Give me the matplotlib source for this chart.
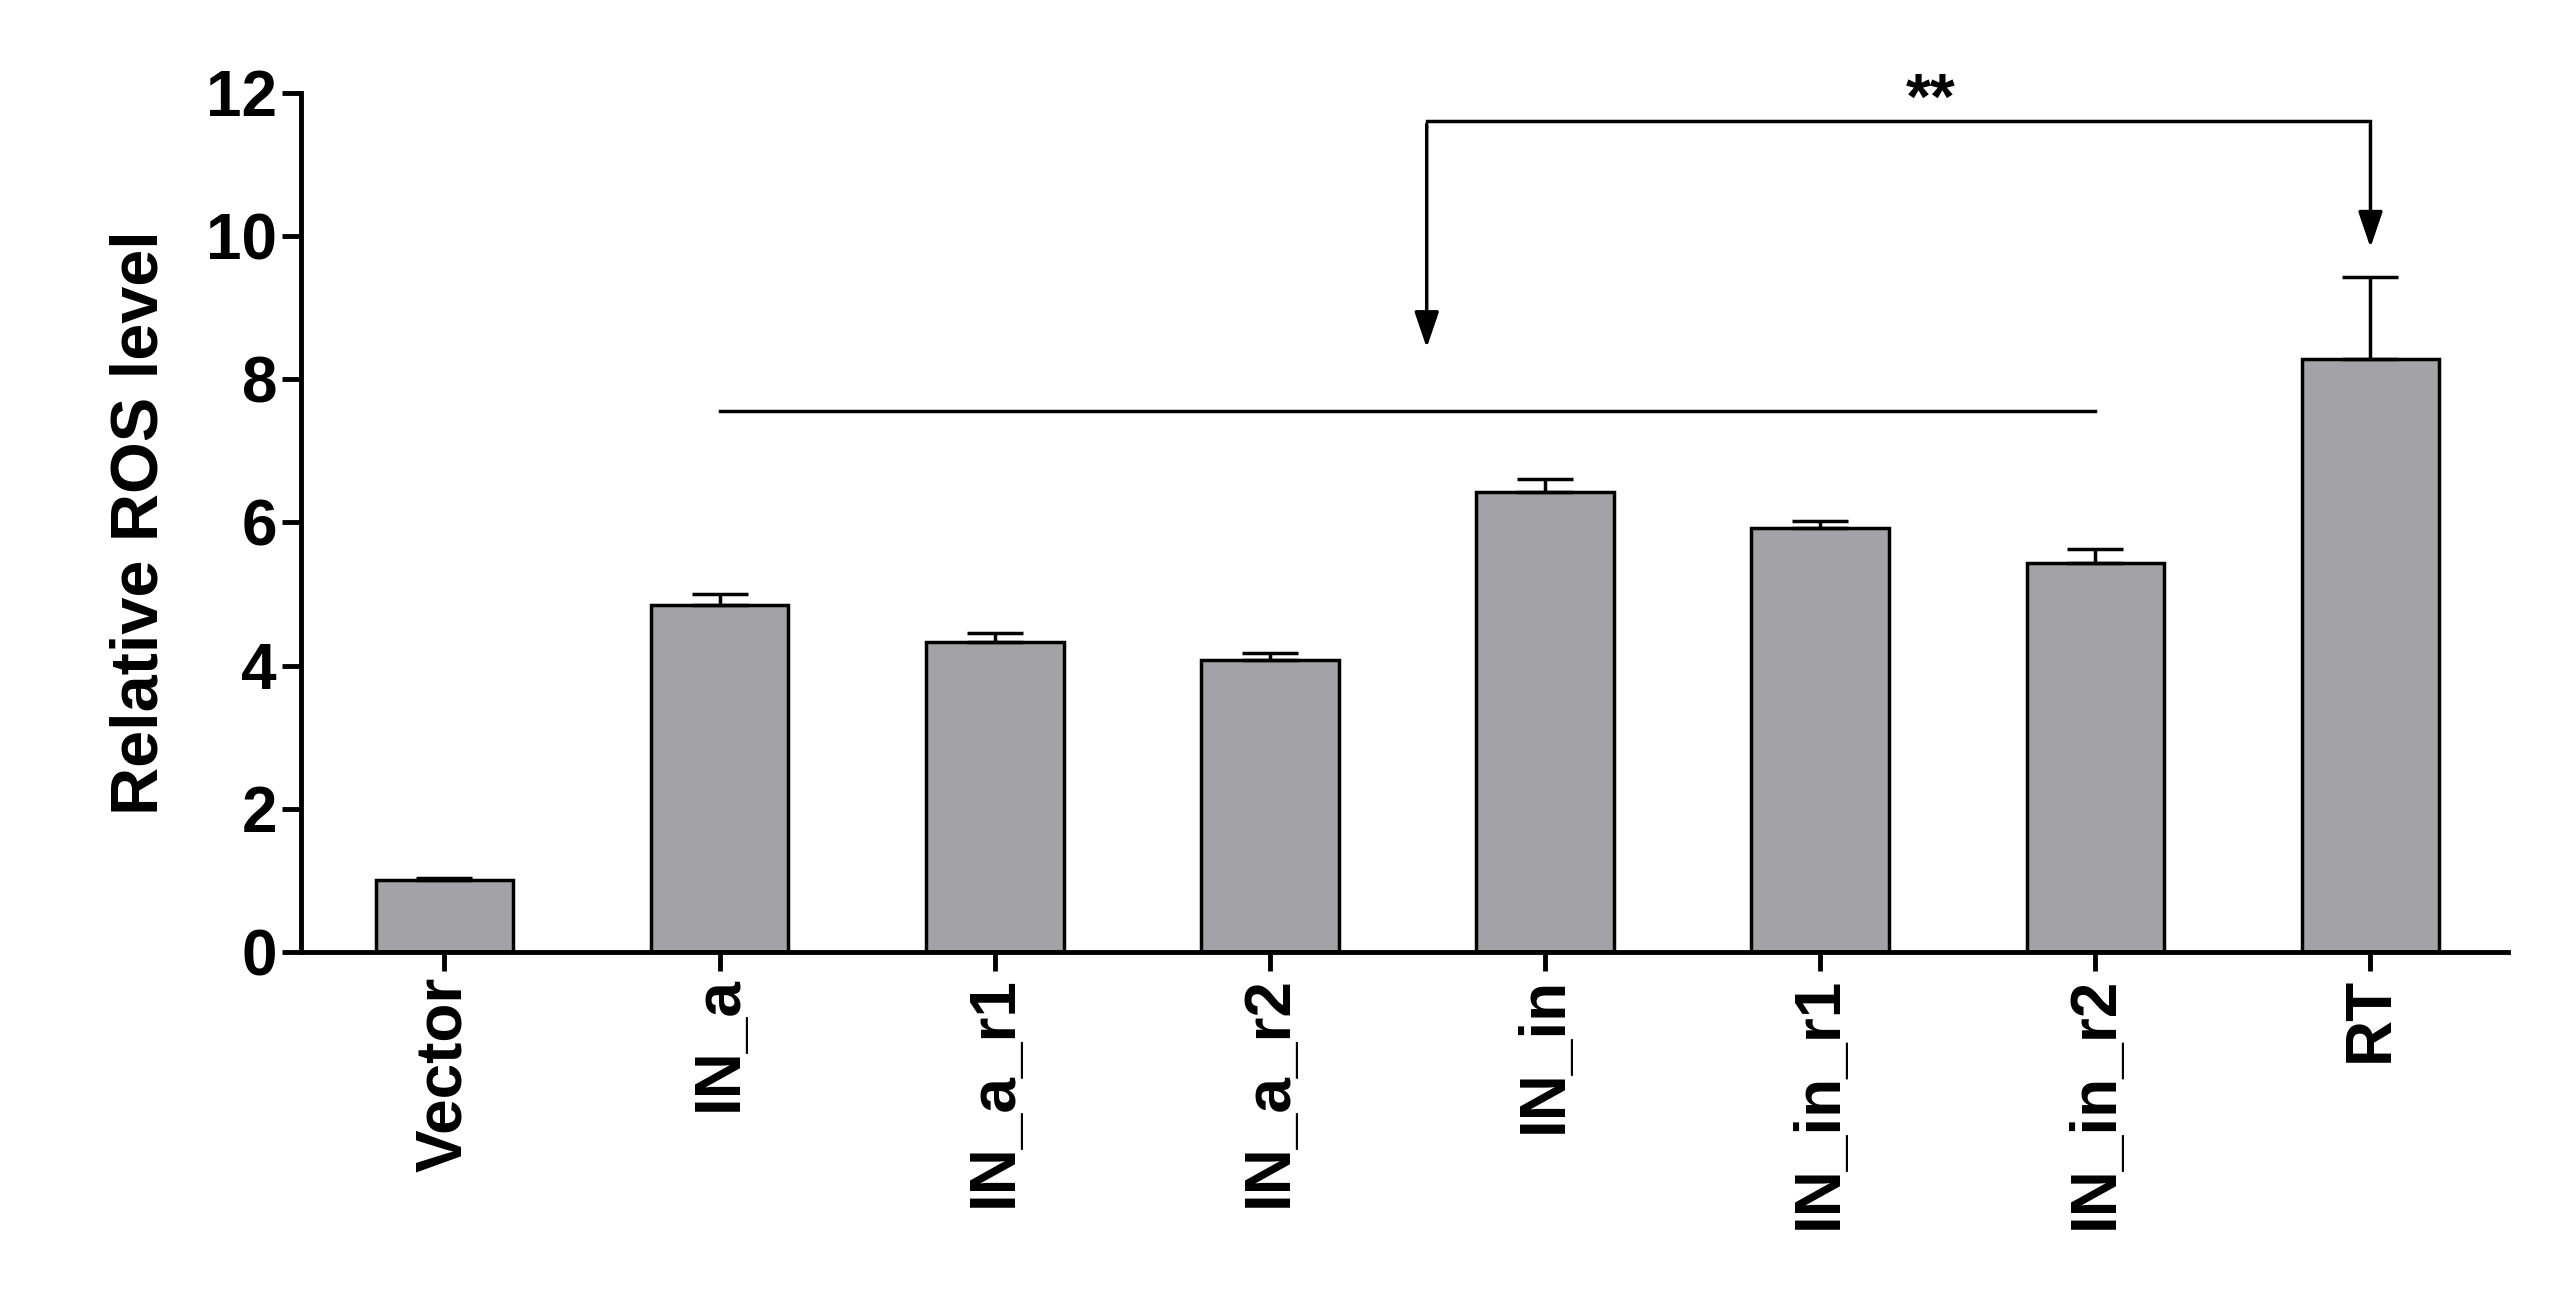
import matplotlib
matplotlib.use('Agg')
import matplotlib.pyplot as plt

categories = ['Vector', 'IN_a', 'IN_a_r1', 'IN_a_r2', 'IN_in', 'IN_in_r1', 'IN_in_r2', 'RT']
values = [1.0, 4.85, 4.33, 4.08, 6.43, 5.92, 5.43, 8.28]
errors = [0.03, 0.15, 0.12, 0.10, 0.17, 0.10, 0.20, 1.15]

plt.rcParams['font.family'] = ['Liberation Sans', 'DejaVu Sans']
plt.rcParams['font.weight'] = 'bold'

fig = plt.figure(figsize=(25.54, 13.06), dpi=100)
ax = fig.add_axes([0.118, 0.271, 0.864, 0.658])

x = range(len(categories))
ax.bar(x, values, width=0.5, color='#a3a3a7', edgecolor='black', linewidth=2.5,
       yerr=[[0] * len(errors), errors], capsize=20,
       error_kw=dict(elinewidth=2.5, capthick=2.5))

ax.set_xlim(-0.52, 7.5)
ax.set_ylim(0, 12)
ax.set_yticks(range(0, 13, 2))
ax.set_xticks(list(x))
ax.set_xticklabels(categories, rotation=90, fontsize=46, fontweight='bold')
ax.tick_params(axis='y', labelsize=46, width=3.5, length=14)
ax.tick_params(axis='x', width=3.5, length=14)
for lbl in ax.get_yticklabels():
    lbl.set_fontweight('bold')
ax.set_ylabel('Relative ROS level', fontsize=48, fontweight='bold', labelpad=25)
for s in ['top', 'right']:
    ax.spines[s].set_visible(False)
for s in ['left', 'bottom']:
    ax.spines[s].set_linewidth(3.5)

# group line
ax.plot([1, 6], [7.55, 7.55], color='black', lw=2.5)
# bracket with arrows
xl, xr, ytop = 3.57, 7.0, 11.6
ax.plot([xl, xr], [ytop, ytop], color='black', lw=2.5)
ax.annotate('', xy=(xl, 8.4), xytext=(xl, ytop),
            arrowprops=dict(arrowstyle='-|>,head_length=2.2,head_width=0.75', color='black', lw=2.5))
ax.annotate('', xy=(xr, 9.8), xytext=(xr, ytop),
            arrowprops=dict(arrowstyle='-|>,head_length=2.2,head_width=0.75', color='black', lw=2.5))
ax.text(5.4, 11.45, '**', ha='center', va='bottom', fontsize=46, fontweight='bold')

fig.savefig('out.png', dpi=100)
